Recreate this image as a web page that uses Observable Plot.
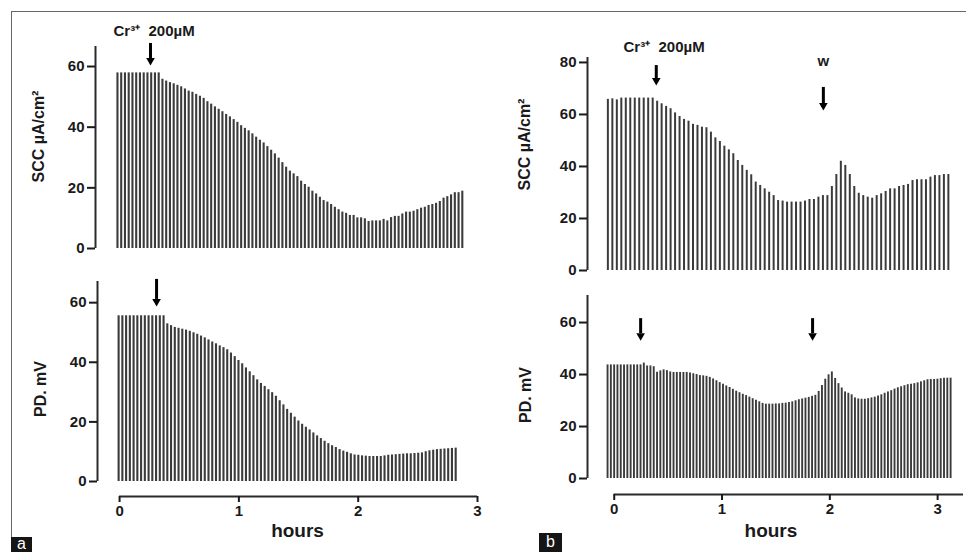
<!DOCTYPE html>
<html><head><meta charset="utf-8">
<script src="https://cdn.jsdelivr.net/npm/d3@7"></script>
<script src="https://cdn.jsdelivr.net/npm/@observablehq/plot@0.6"></script>
<style>
html,body{margin:0;padding:0;background:#fff;}
#wrap{position:relative;width:966px;height:552px;overflow:hidden;background:#fff;font-family:"Liberation Sans",Arial,sans-serif;}
#wrap svg{position:absolute;left:0;top:0;background:transparent;}
.frameTop{position:absolute;left:11px;top:11px;right:0;height:0;border-top:1.5px solid #666;}
.frameLeft{position:absolute;left:11px;top:11px;bottom:0;width:0;border-left:1.5px solid #666;}
.tag{position:absolute;background:#151515;color:#fff;font-size:16px;text-align:center;font-family:"Liberation Sans",Arial,sans-serif;}
</style></head>
<body><div id="wrap"><div class="frameTop"></div><div class="frameLeft"></div>
<div class="tag" style="left:11px;top:537px;width:21px;height:15px;line-height:14px;">a</div>
<div class="tag" style="left:539px;top:533px;width:23px;height:19px;line-height:18px;">b</div>
</div>
<script>
// ---- data ----
const hourTicks = [0, 1, 2, 3];
const yTicksA = [0, 20, 40, 60];
const yTicksBtop = [0, 20, 40, 60, 80];
const yTicksBbot = [0, 20, 40, 60];

// Panel a, SCC (µA/cm²), one bar per sample
const sccA = [57.9,57.9,57.9,57.9,57.9,57.9,57.9,57.9,57.9,57.9,57.9,57.9,
 55.8,55.2,54.7,54.3,53.8,53.3,52.6,51.9,51.5,50.8,50.2,49.5,48.4,47.6,46.7,45.9,45.1,44.2,43.4,42.5,41.6,40.5,39.6,38.8,37.8,36.7,35.7,34.8,33.6,32.4,31.2,29.8,28.3,
 26.8,25.5,24.6,23.7,22.2,21.1,20.2,18.9,18.0,16.9,15.8,15.3,14.5,13.6,12.8,12.0,11.6,10.9,10.9,10.1,10.1,9.8,8.9,9.1,9.1,9.1,9.6,9.1,10.2,10.6,10.6,11.4,12.0,12.0,12.3,12.8,13.3,13.6,14.2,14.5,14.9,15.5,16.6,17.1,17.7,18.4,18.4,18.9];
// Panel a, PD (mV)
const pdA = [55.6,55.6,55.6,55.6,55.6,55.6,55.6,55.6,55.6,55.6,55.6,55.6,55.6,
 52.9,52.3,51.7,51.4,51.1,50.8,50.4,49.9,49.4,48.8,48.2,47.5,46.8,46.2,45.5,44.9,44.2,43.1,41.9,40.6,
 39.5,38.1,36.8,35.5,34.1,32.9,31.9,30.8,29.8,28.6,27.1,25.7,24.2,22.9,21.6,20.3,19.2,18.2,17.3,16.3,
 15.3,14.4,13.5,12.7,12.0,11.4,10.7,10.2,9.8,9.3,8.9,8.8,8.6,8.5,8.4,8.4,8.4,8.4,8.6,8.8,
 8.9,9.0,9.1,9.2,9.3,9.3,9.4,9.5,9.6,10.0,10.3,10.5,10.7,10.8,10.9,11.0,11.1,11.2];
// Panel b, SCC (µA/cm²)
const sccB = [65.8,66.0,65.6,66.3,66.3,66.3,66.3,66.3,66.3,66.3,66.3,
 65.1,64.1,63.1,62.2,60.6,59.2,58.1,57.4,56.2,55.8,55.1,54.9,53.2,51.0,49.6,47.8,46.4,44.9,42.3,40.4,38.5,36.8,34.0,32.7,31.4,30.1,28.8,
 26.9,26.7,26.3,26.3,26.3,26.3,26.7,27.3,27.3,28.2,28.8,28.8,32.3,36.9,42.0,40.4,36.9,32.3,29.7,28.8,28.2,27.8,28.8,29.5,30.4,31.4,31.4,32.3,32.7,33.1,34.6,34.9,34.9,34.9,35.9,36.5,36.5,36.9,36.9];
// Panel b, PD (mV)
const pdB = [43.7,43.7,43.7,43.7,43.7,43.7,43.7,43.7,43.7,43.7,43.7,44.4,43.3,43.3,43.0,40.9,41.4,41.8,41.5,41.0,
 40.8,40.8,40.8,40.8,40.8,40.6,40.3,40.0,39.6,39.5,39.3,38.9,38.3,37.6,36.9,36.3,35.6,35.0,34.3,33.6,
 33.0,32.4,31.9,31.3,30.7,30.1,29.5,28.9,28.6,28.6,28.6,28.7,28.7,28.9,29.0,29.2,29.5,29.9,30.3,30.6,
 30.9,31.2,31.6,32.0,33.5,35.8,38.2,39.9,41.0,38.5,36.5,34.8,33.3,32.8,32.2,31.0,30.6,30.5,30.5,30.7,
 31.0,31.3,31.7,32.2,32.8,33.3,33.8,34.4,34.9,35.3,35.7,36.1,36.3,36.5,36.8,37.2,37.6,38.0,38.1,38.1,
 38.2,38.4,38.6,38.6,38.6];

// sampling: first sample time (h) and sampling interval (h)
const sampA = {scc: [-0.017, 0.03141], pd: [-0.008, 0.03139]};
const sampB = {scc: [-0.059, 0.04156], pd: [-0.062, 0.0306]};

// annotations: arrow time (h), arrow top and tip (axis units)
const arrowsAtop = [{t: 0.26, top: 67.6, tip: 61.0}];
const arrowsAbot = [{t: 0.31, top: 67.8, tip: 59.4}];
const arrowsBtop = [{t: 0.39, top: 78.8, tip: 71.9}, {t: 1.94, top: 70.4, tip: 62.3}];
const arrowsBbot = [{t: 0.245, top: 61.5, tip: 53.8}, {t: 1.84, top: 61.5, tip: 53.8}];
const notesAtop = [{t: -0.05, y: 71.5, text: "Cr³⁺  200µM", anchor: "start"}];
const notesBtop = [{t: 0.086, y: 85.8, text: "Cr³⁺  200µM", anchor: "start"}, {t: 1.94, y: 80.4, text: "w", anchor: "middle"}];

const BAR = "#3b3b3b", AXIS = "#2a2a2a", INK = "#1a1a1a";
const FONT = "'Liberation Sans', Arial, Helvetica, sans-serif";

function panel(cfg) {
  const rows = cfg.values.map((v, i) => ({t: cfg.samp[0] + i * cfg.samp[1], v}));
  const [x0, x1] = cfg.xDomain, [y0, y1] = cfg.yDomain;
  const marks = [
    Plot.ruleX(rows, {x: "t", y1: 0, y2: "v", stroke: BAR, strokeWidth: cfg.barWidth}),
    Plot.ruleX([x0], {y1: 0, y2: y1, stroke: AXIS, strokeWidth: 2}),
    Plot.axisY({ticks: cfg.yTicks, tickSize: 8, tickPadding: 3, tickFormat: d => d, fontSize: 15, fontWeight: "bold", color: INK, strokeWidth: 2, label: null}),
    Plot.text([cfg.yLabel], {frameAnchor: "left", textAnchor: "middle", lineAnchor: "middle", dx: cfg.labelDx, dy: cfg.labelDy, rotate: -90, fontSize: 16, fontWeight: "bold", fill: INK}),
    Plot.ruleX(cfg.arrows, {x: "t", y1: "top", y2: "tip", stroke: "#000", strokeWidth: 3, insetBottom: 5}),
    Plot.dot(cfg.arrows, {x: "t", y: "tip", symbol: "triangle", r: 3.2, fill: "#000", rotate: 180, dy: -3})
  ];
  if (cfg.notes) {
    for (const anchor of ["start", "middle"]) {
      marks.push(Plot.text(cfg.notes.filter(d => d.anchor === anchor), {x: "t", y: "y", text: "text", textAnchor: anchor, fontSize: 15, fontWeight: "bold", fill: INK}));
    }
  }
  if (cfg.xAxis) {
    marks.push(Plot.ruleY([y0], {x1: 0, x2: cfg.xAxisEnd, stroke: AXIS, strokeWidth: 2}));
    marks.push(Plot.axisX({ticks: hourTicks, tickSize: 6, tickPadding: 3, tickFormat: d => d, fontSize: 15, fontWeight: "bold", color: INK, strokeWidth: 2, label: null}));
    marks.push(Plot.text(["hours"], {x: d3.mean(hourTicks), frameAnchor: "bottom", textAnchor: "middle", dx: cfg.hoursDx, dy: cfg.hoursDy, fontSize: 19, fontWeight: "bold", fill: INK}));
  }
  return Plot.plot({
    width: 966, height: 552,
    marginLeft: cfg.m[0], marginRight: cfg.m[1], marginTop: cfg.m[2], marginBottom: cfg.m[3],
    x: {domain: cfg.xDomain, axis: null},
    y: {domain: cfg.yDomain, axis: null},
    style: {fontFamily: FONT, background: "transparent", overflow: "visible"},
    marks
  });
}

const wrap = document.getElementById("wrap");
wrap.append(panel({values: sccA, samp: sampA.scc, xDomain: [-0.201, 3.0], yDomain: [0, 66.6], m: [95, 489, 46, 304],
  yTicks: yTicksA, yLabel: "SCC µA/cm²", labelDx: -57, labelDy: -11, arrows: arrowsAtop, notes: notesAtop, barWidth: 2.1}));
wrap.append(panel({values: pdA, samp: sampA.pd, xDomain: [-0.185, 3.0], yDomain: [-5.03, 67.1], m: [97, 489, 281, 56],
  yTicks: yTicksA, yLabel: "PD. mV", labelDx: -57, labelDy: 0, arrows: arrowsAbot, barWidth: 2.1,
  xAxis: true, xAxisEnd: 3.0, hoursDx: -1, hoursDy: 40}));
wrap.append(panel({values: sccB, samp: sampB.scc, xDomain: [-0.248, 3.24], yDomain: [0, 81.9], m: [587, 3, 57, 282],
  yTicks: yTicksBtop, yLabel: "SCC µA/cm²", labelDx: -63, labelDy: -19.5, arrows: arrowsBtop, notes: notesBtop, barWidth: 2}));
wrap.append(panel({values: pdB, samp: sampB.pd, xDomain: [-0.248, 3.24], yDomain: [-6.15, 70.4], m: [587, 3, 295, 58],
  yTicks: yTicksBbot, yLabel: "PD. mV", labelDx: -62, labelDy: 0, arrows: arrowsBbot, barWidth: 1.9,
  xAxis: true, xAxisEnd: 3.24, hoursDx: -5, hoursDy: 42}));
</script>
</body></html>
